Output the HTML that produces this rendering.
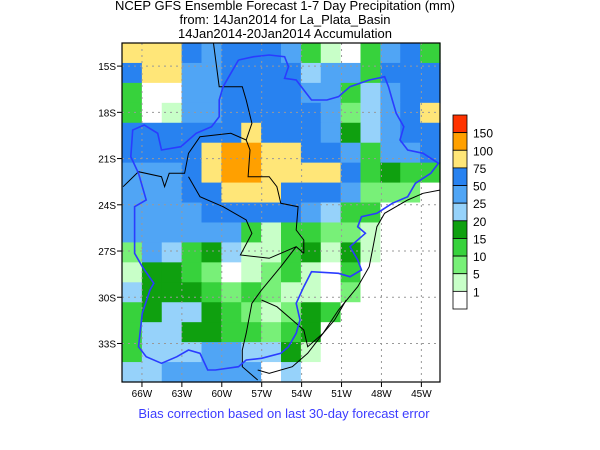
<!DOCTYPE html>
<html><head><meta charset="utf-8"><style>
body{margin:0;background:#fff}
svg{display:block;font-family:"Liberation Sans",sans-serif}
</style></head><body>
<svg id="chart" width="600" height="450" viewBox="0 0 600 450">
<text x="285" y="10" text-anchor="middle" font-size="13">NCEP GFS Ensemble Forecast 1-7 Day Precipitation (mm)</text>
<text x="285" y="24" text-anchor="middle" font-size="13">from: 14Jan2014   for La_Plata_Basin</text>
<text x="285" y="38" text-anchor="middle" font-size="13">14Jan2014-20Jan2014 Accumulation</text>
<g id="cells"></g>
<g id="grid"></g>
<g id="borders"></g>
<rect x="122" y="43" width="318" height="339" fill="none" stroke="#000" stroke-width="1.2"/>
<g id="axes"></g>
<g id="legend"></g>
<text x="284" y="418" text-anchor="middle" font-size="13" fill="#3c3cff">Bias correction based on last 30-day forecast error</text>
</svg>
<script>
const levelLabels=["1","5","10","15","20","25","50","75","100","150"];
const levelColors=["#ffffff","#c8ffc8","#78f078","#37d23c","#0fa00f","#96d2fa","#50a5f5","#2882f0","#ffe678","#ffa000","#ff3300"];
const latTicks=["15S","18S","21S","24S","27S","30S","33S"];
const latVals=[15,18,21,24,27,30,33];
const lonTicks=["66W","63W","60W","57W","54W","51W","48W","45W"];
const lonVals=[66,63,60,57,54,51,48,45];
const gridRows=[
[8,8,8,7,6,7,7,7,6,3,1,0,3,6,7,3],
[7,8,8,6,6,7,7,7,7,5,6,6,3,7,7,7],
[3,0,0,6,6,7,7,7,7,6,6,3,5,6,7,7],
[3,0,1,6,6,7,7,7,7,7,6,2,5,6,7,8],
[7,7,7,7,7,7,8,7,7,7,6,4,5,6,7,7],
[7,7,7,7,8,9,9,8,8,7,7,6,3,6,6,7],
[6,6,6,7,8,9,9,8,8,8,8,7,3,4,3,3],
[6,6,6,7,7,8,8,8,7,7,7,6,2,2,2,0],
[6,6,6,6,7,7,7,7,7,6,5,3,3,0,0,0],
[6,6,6,6,6,6,3,1,3,3,2,2,1,0,0,0],
[2,6,5,3,4,5,1,1,3,4,1,4,1,0,0,0],
[1,4,4,3,2,0,1,2,3,1,0,3,0,0,0,0],
[5,4,4,4,3,2,3,2,1,1,0,2,0,0,0,0],
[3,4,5,5,4,3,2,1,2,4,3,0,0,0,0,0],
[3,5,5,4,4,3,3,2,3,4,0,0,0,0,0,0],
[3,5,5,5,6,6,5,5,4,1,0,0,0,0,0,0],
[5,5,6,6,6,6,6,0,5,0,0,0,0,0,0,0]];
const NS="http://www.w3.org/2000/svg";
const X0=122,X1=440,Y0=43,Y1=382;
const lonW=67.5,lonE=43.6,latN=13.5,latS=35.5;
function xOf(lon){return X0+(lonW-lon)/(lonW-lonE)*(X1-X0);}
function yOf(lat){return Y0+(lat-latN)/(latS-latN)*(Y1-Y0);}
function mk(tag,attrs,parent){const e=document.createElementNS(NS,tag);for(const k in attrs)e.setAttribute(k,attrs[k]);parent.appendChild(e);return e;}
const cells=document.getElementById('cells');
const nr=gridRows.length,nc=gridRows[0].length;
const cw=(X1-X0)/nc,ch=(Y1-Y0)/nr;
gridRows.forEach((row,r)=>row.forEach((v,c)=>{
 const e=mk('rect',{x:X0+c*cw,y:Y0+r*ch,width:cw+0.6,height:ch+0.6,fill:levelColors[v]},cells);
 
 
}));
const grid=document.getElementById('grid'),axes=document.getElementById('axes');
latVals.forEach((v,i)=>{
 const y=yOf(v);
 const l=mk('line',{x1:X0,x2:X1,y1:y,y2:y,stroke:'#999','stroke-dasharray':'2,4','stroke-width':1},grid);
 
 
 const tk=mk('line',{x1:X0-5,x2:X0,y1:y,y2:y,stroke:'#000'},axes);
 
 
 const t=mk('text',{x:X0-6,y:y+4,'text-anchor':'end','font-size':10},axes);
 t.textContent=latTicks[i];
 
 
});
lonVals.forEach((v,i)=>{
 const x=xOf(v);
 const l=mk('line',{x1:x,x2:x,y1:Y0,y2:Y1,stroke:'#999','stroke-dasharray':'2,4','stroke-width':1},grid);
 
 
 const tk=mk('line',{x1:x,x2:x,y1:Y1,y2:Y1+5,stroke:'#000'},axes);
 
 
 const t=mk('text',{x:x,y:Y1+15,'text-anchor':'middle','font-size':10},axes);
 t.textContent=lonTicks[i];
 
 
});
// geography outlines (zoom-image coords: x/2.6, y/3)
const basin=[[620,180],[660,170],[700,165],[740,170],[750,200],[740,235],[770,240],[790,270],[810,300],[850,300],[880,290],[910,260],[960,240],[1000,230],[1010,260],[1020,300],[1030,340],[1050,380],[1040,420],[1060,450],[1100,460],[1140,490],[1120,520],[1080,550],[1060,590],[1020,610],[980,640],[940,650],[930,680],[950,700],[910,740],[930,780],[940,810],[910,830],[880,820],[810,815],[790,860],[770,910],[780,960],[770,1000],[750,1040],[730,1060],[680,1075],[640,1080],[620,1100],[560,1110],[540,1110],[520,1060],[490,1050],[460,1070],[420,1090],[380,1070],[360,1040],[370,940],[390,870],[400,850],[370,800],[350,760],[350,620],[380,600],[360,520],[340,470],[345,390],[375,375],[410,400],[420,450],[470,440],[510,400],[550,380],[570,350],[570,300],[580,260],[600,220],[620,180]];
const blackLines=[
[[555,130],[570,260],[630,260],[640,300],[655,370],[640,420],[650,450],[645,530],[700,530],[720,560],[730,610],[775,620],[770,690],[790,720],[790,760]],
[[320,560],[360,515],[420,530],[428,560],[440,520],[480,520],[490,460],[520,410],[600,400],[640,420]],
[[490,530],[520,590],[580,620],[640,660],[655,700],[625,765],[700,775],[730,760],[770,740],[790,760]],
[[770,740],[730,800],[680,870],[655,910],[640,1000],[630,1050],[630,1100],[670,1140]],
[[680,900],[720,920],[760,960],[790,990],[800,1040],[840,1000],[870,960],[900,900]],
[[1145,570],[1100,580],[1060,600],[1000,640],[980,680],[970,740],[960,800],[930,860],[880,930],[840,1000],[800,1060],[760,1100],[700,1120],[670,1110]]];
function pts(a){return a.map(p=>(p[0]/2.6).toFixed(1)+','+(p[1]/3).toFixed(1)).join(' ');}
const bd=document.getElementById('borders');
blackLines.forEach(a=>{const e=mk('polyline',{points:pts(a),fill:'none',stroke:'#000','stroke-width':1},bd);
 
 });
const bs=mk('polyline',{points:pts(basin),fill:'none',stroke:'#2a3cff','stroke-width':1.6},bd);


// legend
const lg=document.getElementById('legend');
const LX=453,LW=14,LT=115,LB=309,segH=(LB-LT)/levelColors.length;
levelColors.forEach((c,i)=>{
 const idx=levelColors.length-1-i;
 const e=mk('rect',{x:LX,y:LT+i*segH,width:LW,height:segH,fill:levelColors[idx],stroke:'#000','stroke-width':0.8},lg);
 
 
});
levelLabels.forEach((lab,i)=>{
 const y=LB-(i+1)*segH;
 const t=mk('text',{x:LX+LW+6,y:y+5,'font-size':12},lg);
 t.textContent=lab;
 
 
});
</script>
</body></html>
